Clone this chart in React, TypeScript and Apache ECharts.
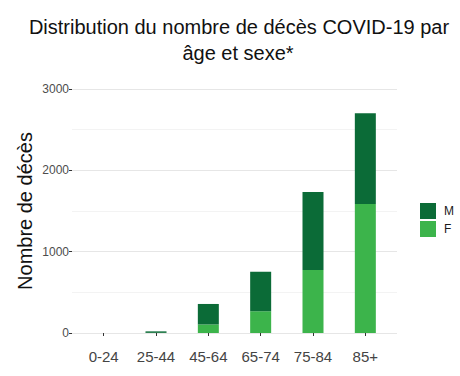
import React, { useEffect, useRef } from "react";
import * as echarts from "echarts";

const categories = ["0-24", "25-44", "45-64", "65-74", "75-84", "85+"];
const femmes = [0, 2, 105, 267, 775, 1587];
const hommes = [0, 18, 252, 487, 959, 1115];
const yTicks = [0, 1000, 2000, 3000];

const FONT = "'Liberation Sans', Arial, Helvetica, sans-serif";
const DARK = "#0b6b37";
const LIGHT = "#3cb44b";

export default function App() {
  const ref = useRef<HTMLDivElement>(null);
  useEffect(() => {
    if (!ref.current) return;
    const chart = echarts.init(ref.current, null, { renderer: "svg" });
    const top = 89;
    const bottom = 43;
    chart.setOption({
      animation: false,
      backgroundColor: "#ffffff",
      textStyle: { fontFamily: FONT },
      graphic: [
        {
          type: "text",
          x: 239,
          y: 27,
          style: {
            text: "Distribution du nombre de décès COVID-19 par",
            fontSize: 20,
            fontFamily: FONT,
            fill: "#111111",
            align: "center",
            verticalAlign: "middle",
          },
        },
        {
          type: "text",
          x: 238,
          y: 53,
          style: {
            text: "âge et sexe*",
            fontSize: 20,
            fontFamily: FONT,
            fill: "#111111",
            align: "center",
            verticalAlign: "middle",
          },
        },
        {
          type: "text",
          x: 25,
          y: 211,
          rotation: Math.PI / 2,
          style: {
            text: "Nombre de décès",
            fontSize: 20,
            fontFamily: FONT,
            fill: "#111111",
            align: "center",
            verticalAlign: "middle",
          },
        },
      ],
      legend: {
        data: ["M", "F"],
        orient: "vertical",
        left: 415,
        top: 198,
        itemWidth: 16,
        itemHeight: 16,
        itemGap: 2,
        icon: "rect",
        textStyle: { fontSize: 12, color: "#1a1a1a", fontFamily: FONT, padding: [0, 0, 0, 3] },
      },
      grid: [
        { left: 72, right: 63, top, bottom },
        { left: 77.5, right: 68.5, top, bottom },
      ],
      xAxis: [
        { type: "category", gridIndex: 0, data: categories, show: false },
        {
          type: "category",
          gridIndex: 1,
          data: categories,
          offset: 11,
          axisLine: { show: false },
          axisTick: { show: true, alignWithLabel: true, length: 3, lineStyle: { color: "#333333" } },
          axisLabel: { fontSize: 15, color: "#444444", margin: 5, fontFamily: FONT },
          splitLine: { show: false },
        },
      ],
      yAxis: [
        {
          type: "value",
          gridIndex: 0,
          min: 0,
          max: 3000,
          interval: 1000,
          axisLine: { show: false },
          axisTick: { show: true, length: 3, lineStyle: { color: "#333333" } },
          axisLabel: {
            fontSize: 12,
            color: "#4d4d4d",
            margin: 3,
            fontFamily: FONT,
            formatter: (v: number) => (yTicks.includes(v) ? String(v) : ""),
          },
          splitLine: { show: true, lineStyle: { color: "#e6e6e6", width: 1 } },
          minorTick: { show: false, splitNumber: 2 },
          minorSplitLine: { show: true, lineStyle: { color: "#f3f3f3", width: 1 } },
        },
        {
          type: "value",
          gridIndex: 1,
          min: 0,
          max: 3000,
          interval: 1000,
          show: false,
          splitLine: { show: false },
        },
      ],
      series: [
        {
          name: "F",
          type: "bar",
          stack: "total",
          xAxisIndex: 1,
          yAxisIndex: 1,
          barWidth: 21,
          data: femmes,
          itemStyle: { color: LIGHT },
        },
        {
          name: "M",
          type: "bar",
          stack: "total",
          xAxisIndex: 1,
          yAxisIndex: 1,
          barWidth: 21,
          data: hommes,
          itemStyle: { color: DARK },
        },
      ],
    });
    return () => chart.dispose();
  }, []);
  return (
    <div
      ref={ref}
      style={{ position: "fixed", left: 0, top: 0, width: 460, height: 376, background: "#fff" }}
    />
  );
}
